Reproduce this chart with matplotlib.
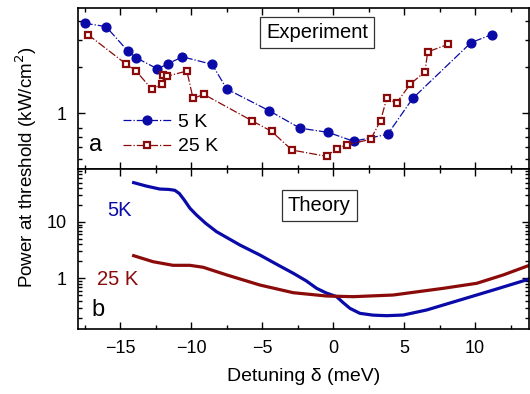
import numpy as np
import matplotlib
matplotlib.use('Agg')
import matplotlib.pyplot as plt
from matplotlib.ticker import FixedLocator, NullFormatter, LogLocator, FixedFormatter

plt.rcParams['font.family'] = ['Liberation Sans', 'DejaVu Sans']

BLUE = '#0a0aa8'
RED = '#8b0a0a'

## experiment, 5 K
x5 = [-17.52, -16.02, -14.49, -13.90, -12.39, -11.64, -10.63, -8.54, -7.50,
      -4.52, -2.35, -0.35, 1.44, 3.84, 5.60, 9.72, 11.18]
p5 = [3.88, 3.69, 2.56, 2.31, 1.95, 2.11, 2.34, 2.09, 1.44,
      1.04, 0.80, 0.75, 0.656, 0.729, 1.25, 2.90, 3.27]

## experiment, 25 K
x25 = [-17.29, -14.58, -13.92, -12.80, -12.04, -11.97, -11.69, -10.32, -9.88,
       -9.12, -5.74, -4.35, -2.91, -0.47, 0.24, 0.99, 2.64, 3.34, 3.77, 4.47,
       5.43, 6.47, 6.66, 8.12]
p25 = [3.27, 2.09, 1.90, 1.44, 1.55, 1.78, 1.75, 1.89, 1.25,
       1.33, 0.895, 0.762, 0.575, 0.523, 0.587, 0.623, 0.676, 0.895, 1.25, 1.17,
       1.55, 1.87, 2.52, 2.83]

## theory curves
tx5 = [-14.07, -13.2, -12.23, -11.6, -11.17, -10.85, -10.5, -10.1, -9.64, -9.0,
       -8.23, -6.58, -5.17, -4.0, -2.82, -1.9, -1.17, -0.5, 0.24, 0.7, 1.18,
       1.88, 2.8, 3.77, 4.94, 6.59, 8.94, 11.29, 13.76]
tp5 = [49.9, 43.5, 38.4, 37.8, 36.5, 32.0, 24.5, 17.5, 13.3, 9.5,
       6.73, 3.90, 2.59, 1.78, 1.23, 0.90, 0.664, 0.55, 0.472, 0.37, 0.293,
       0.239, 0.222, 0.217, 0.223, 0.274, 0.412, 0.62, 0.96]
tx25 = [-14.07, -12.70, -11.29, -10.11, -9.17, -7.52, -5.17, -2.82, -0.47,
        1.41, 4.23, 7.76, 10.12, 12.0, 13.88]
tp25 = [2.52, 1.97, 1.70, 1.70, 1.57, 1.15, 0.76, 0.555, 0.485,
        0.472, 0.505, 0.664, 0.815, 1.15, 1.72]

xticks = [-15, -10, -5, 0, 5, 10]

fig = plt.figure(figsize=(5.3, 3.94), dpi=100)
ax1 = fig.add_axes([0.147, 0.571, 0.851, 0.409])
ax2 = fig.add_axes([0.147, 0.165, 0.851, 0.406], sharex=ax1)

for ax in (ax1, ax2):
    ax.set_yscale('log')
    ax.tick_params(which='both', direction='in', top=True, right=True, width=1)
    ax.tick_params(which='major', length=5, labelsize=13, pad=8)
    ax.tick_params(which='minor', length=3)
    for s in ax.spines.values():
        s.set_linewidth(1.2)
    ax.set_xticks(xticks)
    ax.xaxis.set_minor_locator(FixedLocator(np.arange(-17.5, 14, 5)))

ax1.set_xlim(-18, 13.8)

## top panel
ax1.plot(x5, p5, '-.', color=BLUE, lw=0.9, marker='o', ms=6.3, mfc=BLUE, mec=BLUE,
         label='5 K')
ax1.plot(x25, p25, '-.', color=RED, lw=0.9, marker='s', ms=5, mfc='white',
         mec=RED, mew=1.6, label='25 K')
ax1.set_ylim(0.432, 4.89)
ax1.yaxis.set_major_locator(FixedLocator([1]))
ax1.yaxis.set_major_formatter(FixedFormatter(['1']))
ax1.yaxis.set_minor_locator(FixedLocator([0.5, 0.6, 0.7, 0.8, 2, 3, 4]))
ax1.yaxis.set_minor_formatter(NullFormatter())
plt.setp(ax1.get_xticklabels(), visible=False)
ax1.legend(loc='lower left', bbox_to_anchor=(0.07, 0.0), frameon=False,
           fontsize=14, handlelength=2.5, handletextpad=0.3, labelspacing=0.35,
           borderaxespad=0.3)
ax1.text(0.53, 0.845, 'Experiment', transform=ax1.transAxes, ha='center',
         va='center', fontsize=14.5,
         bbox=dict(boxstyle='square,pad=0.3', fc='white', ec='#333333', lw=0.9))
ax1.text(0.025, 0.08, 'a', transform=ax1.transAxes, fontsize=17, ha='left',
         va='bottom')

## bottom panel
ax2.plot(tx5, tp5, '-', color=BLUE, lw=2.3)
ax2.plot(tx25, tp25, '-', color=RED, lw=2.3)
ax2.set_ylim(0.126, 87)
ax2.yaxis.set_major_locator(FixedLocator([1, 10]))
ax2.yaxis.set_major_formatter(FixedFormatter(['1', '10']))
ax2.yaxis.set_minor_locator(LogLocator(base=10, subs=np.arange(2, 10)))
ax2.yaxis.set_minor_formatter(NullFormatter())
ax2.text(0.535, 0.77, 'Theory', transform=ax2.transAxes, ha='center',
         va='center', fontsize=14.5,
         bbox=dict(boxstyle='square,pad=0.3', fc='white', ec='#333333', lw=0.9))
ax2.text(0.065, 0.74, '5K', transform=ax2.transAxes, color=BLUE, fontsize=14.5,
         va='center')
ax2.text(0.042, 0.31, '25 K', transform=ax2.transAxes, color=RED, fontsize=14.5,
         va='center')
ax2.text(0.03, 0.05, 'b', transform=ax2.transAxes, fontsize=17, ha='left',
         va='bottom')
ax2.set_xlabel('Detuning \u03b4 (meV)', fontsize=14, labelpad=8)

fig.text(0.05, 0.575, 'Power at threshold (kW/cm$^2$)', rotation=90,
         ha='center', va='center', fontsize=13.5)

fig.savefig('out.png', dpi=100)
